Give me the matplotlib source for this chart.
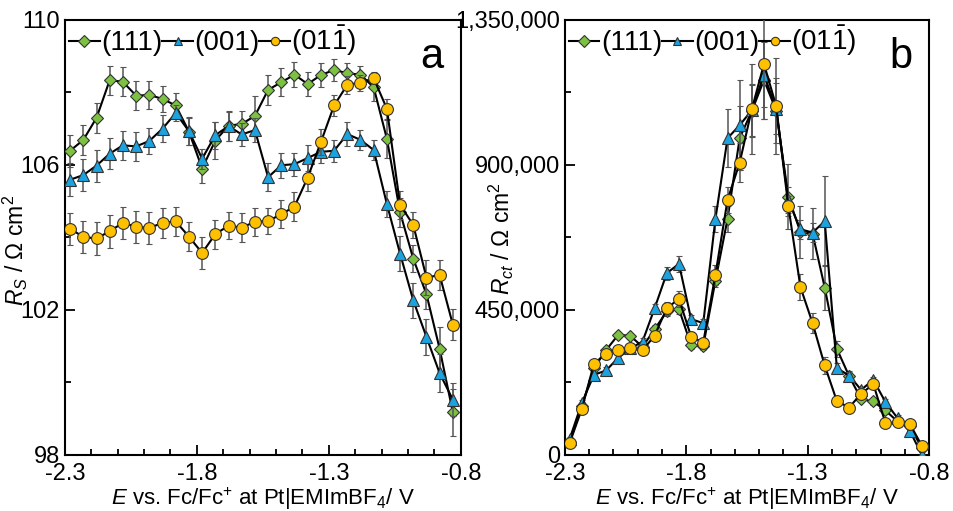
import numpy as np
import matplotlib
matplotlib.use("Agg")
import matplotlib.pyplot as plt
from matplotlib.lines import Line2D
from matplotlib.ticker import FixedLocator, FuncFormatter

plt.rcParams['font.family'] = ['Liberation Sans', 'DejaVu Sans']
plt.rcParams['mathtext.fontset'] = 'custom'
plt.rcParams['mathtext.rm'] = 'Liberation Sans'
plt.rcParams['mathtext.it'] = 'Liberation Sans:italic'

# potentials (V vs Fc/Fc+)
potential = [-2.28 + 0.05 * i for i in range(30)]

# panel a: solution resistance, Ohm cm2
rs_111 = [106.39, 106.69, 107.30, 108.34, 108.29, 107.91, 107.93, 107.82, 107.64, 106.92,
          105.90, 106.67, 107.08, 107.13, 107.35, 108.07, 108.28, 108.49, 108.23, 108.48,
          108.62, 108.53, 108.49, 108.14, 106.72, 104.69, 103.41, 102.43, 100.92, 99.17]
rs_111_err = [0.44, 0.41, 0.42, 0.40, 0.40, 0.40, 0.38, 0.35, 0.34, 0.38,
              0.40, 0.50, 0.41, 0.35, 0.55, 0.41, 0.39, 0.34, 0.34, 0.32,
              0.31, 0.28, 0.25, 0.39, 0.53, 0.40, 0.37, 0.41, 0.60, 0.64]
rs_001 = [105.59, 105.72, 105.98, 106.31, 106.54, 106.51, 106.66, 107.00, 107.43, 106.93,
          106.17, 106.82, 107.07, 106.84, 106.96, 105.66, 105.99, 106.02, 106.19, 106.36,
          106.39, 106.85, 106.69, 106.41, 104.92, 103.55, 102.26, 101.25, 100.25, 99.52]
rs_001_err = [0.45, 0.44, 0.44, 0.43, 0.40, 0.41, 0.37, 0.37, 0.22, 0.39,
              0.28, 0.37, 0.40, 0.32, 0.34, 0.39, 0.34, 0.32, 0.35, 0.32,
              0.30, 0.33, 0.28, 0.28, 0.35, 0.48, 0.48, 0.50, 0.53, 0.45]
rs_011 = [104.24, 104.01, 103.97, 104.17, 104.40, 104.29, 104.26, 104.40, 104.44, 104.02,
          103.57, 104.09, 104.32, 104.27, 104.43, 104.45, 104.64, 104.85, 105.65, 106.63,
          107.64, 108.21, 108.27, 108.39, 107.55, 104.90, 104.34, 102.89, 102.96, 101.59]
rs_011_err = [0.44, 0.45, 0.45, 0.45, 0.45, 0.44, 0.43, 0.42, 0.41, 0.41,
              0.45, 0.40, 0.37, 0.40, 0.38, 0.37, 0.38, 0.39, 0.37, 0.35,
              0.30, 0.25, 0.22, 0.16, 0.28, 0.39, 0.37, 0.48, 0.41, 0.42]

# panel b: charge transfer resistance, Ohm cm2
rct_111 = [40000, 150000, 269000, 325000, 372400, 369300, 335000, 390000, 444900, 452100,
           340300, 338300, 540000, 732400, 982800, 1067600, 1163800, 1068600, 801700, 691000,
           686800, 519300, 329000, 245000, 172800, 165500, 137500, 103400, 87900, 21700]
rct_111_err = [8000, 10000, 10000, 10000, 10000, 10000, 10000, 12000, 15000, 15000,
               12000, 12000, 20000, 40000, 100000, 80000, 120000, 100000, 100000, 80000,
               80000, 70000, 25000, 15000, 10000, 10000, 10000, 10000, 10000, 8000]
rct_001 = [48700, 160400, 248300, 261700, 301000, 330000, 351600, 455200, 563900, 592800,
           421100, 408700, 731500, 982800, 1023200, 1070000, 1180000, 1075000, 790000, 700000,
           690000, 725000, 269100, 246100, 201700, 232800, 163400, 113700, 74500, 0]
rct_001_err = [8000, 10000, 10000, 10000, 10000, 10000, 10000, 12000, 20000, 25000,
               12000, 12000, 40000, 90000, 140000, 80000, 100000, 80000, 40000, 30000,
               30000, 140000, 15000, 10000, 10000, 10000, 10000, 10000, 10000, 8000]
rct_011 = [36300, 141800, 282400, 314400, 325900, 330000, 323800, 370300, 455200, 484100,
           367200, 348500, 558600, 791400, 907200, 1072900, 1213400, 1083100, 772800, 520500,
           408800, 277200, 166600, 146800, 189300, 219400, 98400, 100300, 96200, 27900]
rct_011_err = [8000, 10000, 10000, 10000, 10000, 10000, 10000, 12000, 20000, 25000,
               15000, 15000, 30000, 40000, 60000, 140000, 170000, 150000, 30000, 40000,
               30000, 25000, 15000, 10000, 10000, 10000, 10000, 10000, 10000, 8000]

labels = ['(111)', '(001)', r'(01$\bar{1}$)']
colors = ['#7cc142', '#1ba3e0', '#ffc000']
markers = ['D', '^', 'o']
msizes = [6, 8.5, 8.5]

x_major = [-2.3, -1.8, -1.3, -0.8]
x_minor = [-2.3 + 0.1 * i for i in range(16)]

fig = plt.figure(figsize=(9.54, 5.11), dpi=100)
ax_a = fig.add_axes([0.068, 0.110, 0.415, 0.851])
ax_b = fig.add_axes([0.592, 0.110, 0.382, 0.851])

def draw_panel(ax, series, errs):
    for i in range(3):
        ax.errorbar(potential, series[i], yerr=errs[i], color='black', lw=1.5,
                    ecolor='#555555', elinewidth=1.1, capsize=2.5, capthick=1.0,
                    marker=markers[i], ms=msizes[i], mfc=colors[i], mec='#333333',
                    mew=0.8, zorder=3 + i)
    ax.set_xlim(-2.3, -0.8)
    ax.xaxis.set_major_locator(FixedLocator(x_major))
    ax.xaxis.set_minor_locator(FixedLocator(x_minor))
    ax.xaxis.set_major_formatter(FuncFormatter(lambda v, p: '%.1f' % v))
    ax.tick_params(which='both', direction='in', labelsize=17, width=1.3)
    ax.tick_params(which='major', length=7)
    ax.tick_params(which='minor', length=4)
    ax.tick_params(axis='x', pad=6)
    for s in ax.spines.values():
        s.set_linewidth(1.5)
    ax.set_xlabel(r'$E$ vs. Fc/Fc$^{+}$ at Pt|EMImBF$_4$/ V', fontsize=16, labelpad=0)
    handles = [Line2D([], [], color='black', lw=1.5, marker=markers[i], ms=6,
                      mfc=colors[i], mec='#333333', mew=0.8) for i in range(3)]
    ax.legend(handles, labels, loc='upper left', ncol=3, frameon=False, fontsize=20,
              handlelength=1.1, handletextpad=0.05, columnspacing=0.0,
              borderaxespad=0.0, borderpad=0.15)

draw_panel(ax_a, [rs_111, rs_001, rs_011], [rs_111_err, rs_001_err, rs_011_err])
ax_a.set_ylim(98, 110)
ax_a.yaxis.set_major_locator(FixedLocator([98, 102, 106, 110]))
ax_a.yaxis.set_minor_locator(FixedLocator([100, 104, 108]))
ax_a.set_ylabel(r'$R_S$ / $\Omega$ cm$^2$', fontsize=16.5)
ax_a.yaxis.set_label_coords(-0.088, 0.471)
ax_a.text(0.955, 0.96, 'a', transform=ax_a.transAxes, fontsize=30, ha='right', va='top')

draw_panel(ax_b, [rct_111, rct_001, rct_011], [rct_111_err, rct_001_err, rct_011_err])
ax_b.set_ylim(0, 1350000)
ax_b.yaxis.set_major_locator(FixedLocator([0, 450000, 900000, 1350000]))
ax_b.yaxis.set_minor_locator(FixedLocator([225000, 675000, 1125000]))
ax_b.yaxis.set_major_formatter(FuncFormatter(lambda v, p: '{:,.0f}'.format(v)))
ax_b.set_ylabel(r'$R_{ct}$ / $\Omega$ cm$^2$', fontsize=16.5)
ax_b.yaxis.set_label_coords(-0.133, 0.497)
ax_b.text(0.955, 0.96, 'b', transform=ax_b.transAxes, fontsize=30, ha='right', va='top')

fig.savefig('out.png', dpi=100)
